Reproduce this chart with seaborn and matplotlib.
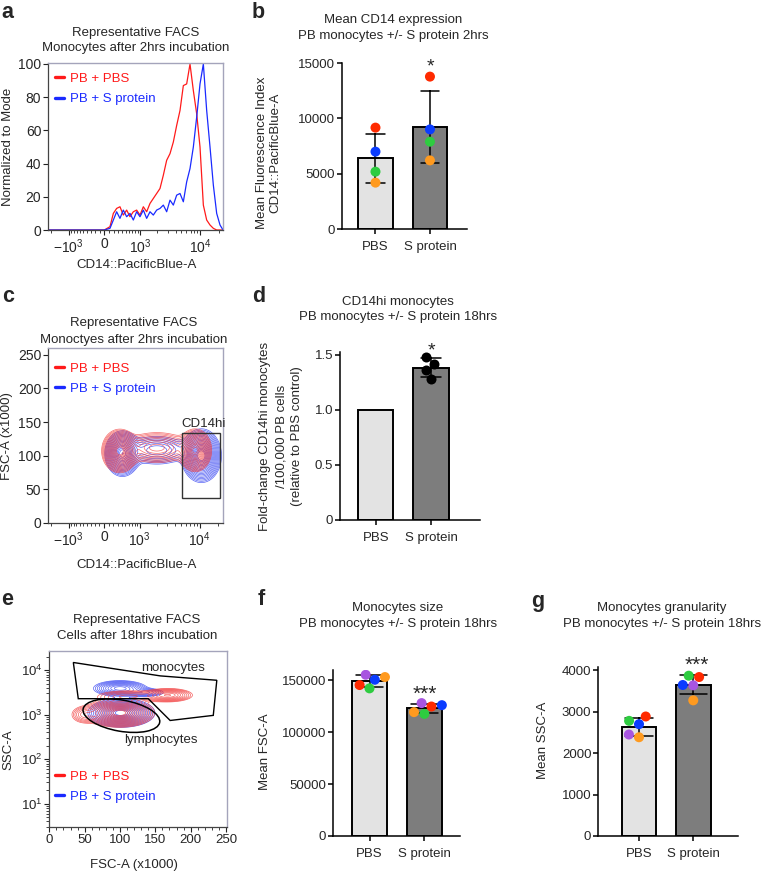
import numpy as np
import pandas as pd
import matplotlib
matplotlib.use("Agg")
import matplotlib.pyplot as plt
import seaborn as sns
from matplotlib.lines import Line2D
from matplotlib.patches import Rectangle, Polygon, Ellipse
from matplotlib.ticker import FixedLocator, FixedFormatter, MultipleLocator, LogLocator, NullFormatter

# ======================= DATA =======================
groups = ["PBS", "S protein"]
donors = ["D1", "D2", "D3", "D4", "D5"]
donor_colors = {"D1": "#ff2a00", "D2": "#0a3cff", "D3": "#2ecc40",
                "D4": "#ff9a1f", "D5": "#a855e0"}
bar_fill = {"PBS": "#e3e3e3", "S protein": "#7d7d7d"}

# (a) FACS histogram: CD14 channel intensity -> % of mode
hist_cd14 = [-2200, 0, 121, 195, 271, 351, 437, 530, 631, 741, 863, 998, 1149,
             1317, 1505, 1716, 1955, 2222, 2524, 2865, 3250, 3684, 4176, 4731,
             5358, 6069, 6872, 7781, 8810, 9973, 11290, 12781, 14466, 16377,
             18535, 20979, 23500]
hist_pbs = [0, 0, 2, 10, 13, 14, 9, 12, 8, 11, 12, 9, 14, 11, 16, 19, 22, 25,
            33, 42, 46, 53, 63, 72, 87, 88, 100, 84, 70, 50, 15, 6, 3, 1, 0, 0, 0]
hist_sprot = [0, 0, 1, 6, 11, 7, 12, 8, 10, 6, 11, 8, 12, 7, 11, 9, 12, 13, 15,
              11, 18, 15, 21, 22, 17, 29, 37, 50, 68, 88, 100, 72, 50, 27, 10, 3, 0]

# (b) mean CD14 MFI per donor
mfi_pbs = [9160, 6990, 5180, 4190]
mfi_sprot = [13770, 9000, 7890, 6200]

# (c) contour populations (CD14 centre, FSC centre, spread in asinh units, FSC spread, weight)
c_pbs_cd14 = [351, 2000, 8500]
c_pbs_fsc = [107, 112, 108]
c_pbs_sd_u = [0.27, 0.60, 0.25]
c_pbs_sd_fsc = [13, 11, 13]
c_pbs_w = [1.0, 0.35, 0.9]
c_sp_cd14 = [420, 2000, 10700]
c_sp_fsc = [103, 108, 100]
c_sp_sd_u = [0.27, 0.60, 0.30]
c_sp_sd_fsc = [14, 11, 16]
c_sp_w = [1.0, 0.30, 1.2]
cd14hi_gate_cd14 = [5225, 21760]
cd14hi_gate_fsc = [37.6, 133.6]

# (d) fold-change CD14hi monocytes
cd14hi_pbs = [1.0]
cd14hi_sprot = [1.42, 1.48, 1.36, 1.28]

# (e) FSC/SSC contour populations (FSC centre, SSC centre, FSC spread, SSC spread in decades, weight)
e_pbs_fsc = [99, 50, 168, 112]
e_pbs_ssc = [1100, 1000, 2750, 2600]
e_pbs_sd_fsc = [20, 10, 16, 24]
e_pbs_sd_dec = [0.13, 0.10, 0.07, 0.07]
e_pbs_w = [1.0, 0.2, 0.45, 0.2]
e_sp_fsc = [102, 100, 135]
e_sp_ssc = [1100, 3900, 3160]
e_sp_sd_fsc = [19, 17, 15]
e_sp_sd_dec = [0.13, 0.08, 0.05]
e_sp_w = [1.0, 0.5, 0.2]
mono_gate_fsc = [34, 157, 237, 232, 171, 140, 41]
mono_gate_ssc = [14900, 7450, 5940, 966, 742, 2290, 2290]
lymph_gate_fsc = 102
lymph_gate_ssc = 950
lymph_gate_width = 110      # FSC units
lymph_gate_height = 0.70    # decades
lymph_gate_angle = -10

# (f) mean FSC-A, (g) mean SSC-A per donor
fsc_pbs = [145500, 150600, 142300, 153200, 155400]
fsc_sprot = [124800, 126100, 117700, 119400, 128100]
ssc_pbs = [2880, 2695, 2775, 2380, 2446]
ssc_sprot = [3831, 3639, 3863, 3269, 3631]

# CD14 axis ticks
cd14_major = [-1000, 0, 1000, 10000]
cd14_labels = [r"$\mathregular{-10^3}$", "0", r"$\mathregular{10^3}$", r"$\mathregular{10^4}$"]
cd14_minor = [-2000] + list(range(-900, 0, 100)) + list(range(100, 1000, 100)) + \
             list(range(2000, 10000, 1000)) + [20000]

# ======================= STYLE =======================
sns.set_theme(style="ticks")
plt.rcParams["font.family"] = ["Liberation Sans", "DejaVu Sans"]
plt.rcParams["mathtext.fontset"] = "custom"
plt.rcParams["mathtext.rm"] = "Liberation Sans"
plt.rcParams["mathtext.it"] = "Liberation Sans:italic"
plt.rcParams["mathtext.bf"] = "Liberation Sans:bold"
plt.rcParams["axes.unicode_minus"] = False

FS = 9.5
RED, BLUE = "#ff1a1a", "#1a2aff"
CRED, CBLUE = "#f23a3a", "#3a48f2"
CD14_W = 571

W, H = 762, 876
fig = plt.figure(figsize=(W / 100, H / 100), dpi=100)


def add_ax(l, t, r, b):
    return fig.add_axes([l / W, 1 - b / H, (r - l) / W, (b - t) / H])


def ptext(x, y, s, **kw):
    kw.setdefault("fontsize", FS)
    kw.setdefault("ha", "center")
    kw.setdefault("va", "center")
    return fig.text(x / W, 1 - y / H, s, **kw)


def letter(x, y, s):
    fig.text(x / W, 1 - y / H, s, fontsize=15.5, fontweight="bold", ha="left", va="baseline")


def facs_frame(ax, labelsize=10):
    for s in ("top", "right"):
        ax.spines[s].set_visible(True)
        ax.spines[s].set_color("#a4a4bb")
        ax.spines[s].set_linewidth(1.0)
    for s in ("left", "bottom"):
        ax.spines[s].set_color("#444444")
        ax.spines[s].set_linewidth(0.9)
    ax.tick_params(which="major", direction="out", length=3.5, width=0.8,
                   labelsize=labelsize, pad=1.5, color="#222222")
    ax.tick_params(which="minor", direction="out", length=2, width=0.6, color="#222222")
    ax.set_xlabel("")
    ax.set_ylabel("")


def cd14_axis(ax):
    ax.set_xscale("asinh", linear_width=CD14_W)
    ax.set_xlim(-2250, 23700)
    ax.xaxis.set_major_locator(FixedLocator(cd14_major))
    ax.xaxis.set_major_formatter(FixedFormatter(cd14_labels))
    ax.xaxis.set_minor_locator(FixedLocator(cd14_minor))
    ax.xaxis.set_minor_formatter(NullFormatter())


def facs_legend(ax, anchor):
    handles = [Line2D([], [], color=RED, lw=2.4), Line2D([], [], color=BLUE, lw=2.4)]
    ax.legend(handles, ["PB + PBS", "PB + S protein"], loc="upper left",
              bbox_to_anchor=anchor, frameon=False, fontsize=FS, handlelength=0.65,
              handletextpad=0.5, labelspacing=0.62, borderpad=0, borderaxespad=0,
              labelcolor="linecolor")


def gauss_density(gx, gy, cx, cy, sx, sy, w):
    z = np.zeros_like(gx)
    for a, b, c, d, e in zip(cx, cy, sx, sy, w):
        z += e * np.exp(-0.5 * (((gx - a) / c) ** 2 + ((gy - b) / d) ** 2))
    return z


def contour_levels(z, n=18):
    r = np.linspace(2.5, 0.45, n)
    return z.max() * np.exp(-0.5 * r ** 2)


def long_df(pbs, sprot):
    return pd.DataFrame({"group": ["PBS"] * len(pbs) + ["S protein"] * len(sprot),
                         "value": list(pbs) + list(sprot),
                         "donor": donors[:len(pbs)] + donors[:len(sprot)]})


def bars(ax, df, capsize):
    sns.barplot(data=df, x="group", y="value", hue="group", order=groups,
                hue_order=groups, palette=bar_fill, errorbar="sd", capsize=capsize,
                width=0.64, edgecolor="black", linewidth=1.4,
                err_kws={"color": "black", "linewidth": 1.1}, legend=False, ax=ax)


def bar_frame(ax, xlim, ylim, yticks, yticklabels):
    sns.despine(ax=ax)
    for s in ("left", "bottom"):
        ax.spines[s].set_linewidth(1.1)
        ax.spines[s].set_color("black")
    ax.set_xlim(*xlim)
    ax.set_ylim(*ylim)
    ax.set_yticks(yticks)
    ax.set_yticklabels(yticklabels)
    ax.tick_params(axis="y", direction="out", length=3.5, width=1.1, labelsize=FS,
                   pad=1.5, color="black")
    ax.tick_params(axis="x", direction="out", length=3.5, width=1.1, labelsize=FS,
                   pad=5.0, color="black")
    ax.set_xlabel("")
    ax.set_ylabel("")


def stars(x, y, s, size):
    ptext(x, y + 4, s, fontsize=size)


# ======================= (a) =======================
ax = add_ax(48.3, 63, 223.3, 230)
cd14_axis(ax)
sns.lineplot(x=hist_cd14, y=hist_pbs, color=RED, lw=0.9, estimator=None, sort=False, ax=ax)
sns.lineplot(x=hist_cd14, y=hist_sprot, color=BLUE, lw=0.9, estimator=None, sort=False, ax=ax)
ax.set_ylim(0, 100.6)
ax.set_yticks([0, 20, 40, 60, 80, 100])
facs_frame(ax)
facs_legend(ax, (0.038, 0.942))
letter(1, 18, "a")
ptext(136, 33, "Representative FACS")
ptext(136, 48.5, "Monocytes after 2hrs incubation")
ptext(8, 147, "Normalized to Mode", rotation=90)
ptext(137, 265, "CD14::PacificBlue-A")

# ======================= (b) =======================
ax = add_ax(341.7, 63, 467, 229)
df_b = long_df(mfi_pbs, mfi_sprot)
bars(ax, df_b, 0.34)
sns.stripplot(data=df_b, x="group", y="value", hue="donor", order=groups,
              palette=donor_colors, jitter=False, size=7.2, linewidth=0,
              legend=False, ax=ax, zorder=3)
bar_frame(ax, (-0.62, 1.68), (0, 15000), [0, 5000, 10000, 15000],
          ["0", "5000", "10000", "15000"])
stars(430, 63, "*", 14)
letter(252, 18, "b")
ptext(393, 20, "Mean CD14 expression")
ptext(393, 36, "PB monocytes +/- S protein 2hrs")
ptext(262, 153, "Mean Fluorescence Index", rotation=90)
ptext(275.5, 153, "CD14::PacificBlue-A", rotation=90)

# ======================= (c) =======================
ax = add_ax(48.3, 348, 222.7, 523)
cd14_axis(ax)
ax.set_ylim(0, 260)
gu = np.linspace(np.arcsinh(-2250 / CD14_W), np.arcsinh(23700 / CD14_W), 400)
gy = np.linspace(0, 260, 400)
GU, GY = np.meshgrid(gu, gy)
GX = CD14_W * np.sinh(GU)
z_pbs = gauss_density(GU, GY, np.arcsinh(np.array(c_pbs_cd14) / CD14_W), c_pbs_fsc,
                      c_pbs_sd_u, c_pbs_sd_fsc, c_pbs_w)
z_sp = gauss_density(GU, GY, np.arcsinh(np.array(c_sp_cd14) / CD14_W), c_sp_fsc,
                     c_sp_sd_u, c_sp_sd_fsc, c_sp_w)
ax.contour(GX, GY, z_sp, levels=contour_levels(z_sp, 18), colors=CBLUE, linewidths=0.5, alpha=0.85)
ax.contour(GX, GY, z_pbs, levels=contour_levels(z_pbs, 18), colors=CRED, linewidths=0.5, alpha=0.75)
ax.add_patch(Rectangle((cd14hi_gate_cd14[0], cd14hi_gate_fsc[0]),
                       cd14hi_gate_cd14[1] - cd14hi_gate_cd14[0],
                       cd14hi_gate_fsc[1] - cd14hi_gate_fsc[0],
                       fill=False, ec="#333333", lw=1.0, zorder=5))
ax.set_yticks([0, 50, 100, 150, 200, 250])
facs_frame(ax)
facs_legend(ax, (0.038, 0.918))
ptext(204, 424, "CD14hi")
letter(2, 302, "c")
ptext(134, 323, "Representative FACS")
ptext(134, 339.5, "Monoctyes after 2hrs incubation")
ptext(7, 436, "FSC-A (x1000)", rotation=90)
ptext(137, 565, "CD14::PacificBlue-A")

# ======================= (d) =======================
ax = add_ax(340, 351.7, 480, 520)
df_d = long_df(cd14hi_pbs, cd14hi_sprot)
bars(ax, df_d, 0.36)
sns.swarmplot(data=df_d[df_d["group"] == "S protein"], x="group", y="value",
              order=groups, color="black", size=7.2, linewidth=0, ax=ax, zorder=3)
bar_frame(ax, (-0.65, 1.89), (0, 1.53), [0, 0.5, 1.0, 1.5], ["0", "0.5", "1.0", "1.5"])
stars(431, 347, "*", 14)
letter(252, 302, "d")
ptext(398, 302, "CD14hi monocytes")
ptext(398, 317, "PB monocytes +/- S protein 18hrs")
ptext(265, 436, "Fold-change CD14hi monocytes", rotation=90)
ptext(281, 436, "/100,000 PB cells", rotation=90)
ptext(297, 436, "(relative to PBS control)", rotation=90)

# ======================= (e) =======================
ax = add_ax(49.3, 651, 226.7, 827)
ax.set_yscale("log")
ax.set_xlim(0, 251)
ax.set_ylim(3, 27000)
gx = np.linspace(0, 251, 400)
gl = np.linspace(np.log10(3), np.log10(27000), 400)
GXe, GLe = np.meshgrid(gx, gl)
ze_pbs = gauss_density(GXe, GLe, e_pbs_fsc, np.log10(e_pbs_ssc), e_pbs_sd_fsc,
                       e_pbs_sd_dec, e_pbs_w)
ze_sp = gauss_density(GXe, GLe, e_sp_fsc, np.log10(e_sp_ssc), e_sp_sd_fsc,
                      e_sp_sd_dec, e_sp_w)
ax.contour(GXe, 10 ** GLe, ze_sp, levels=contour_levels(ze_sp, 16), colors=CBLUE,
           linewidths=0.5, alpha=0.85)
ax.contour(GXe, 10 ** GLe, ze_pbs, levels=contour_levels(ze_pbs, 16), colors=CRED,
           linewidths=0.5, alpha=0.8)
ax.add_patch(Polygon(list(zip(mono_gate_fsc, mono_gate_ssc)), closed=True,
                     fill=False, ec="black", lw=1.0, zorder=5))
ctr = ax.transAxes.inverted().transform(ax.transData.transform((lymph_gate_fsc, lymph_gate_ssc)))
span_dec = np.log10(27000) - np.log10(3)
ax.add_patch(Ellipse(ctr, lymph_gate_width / 251, lymph_gate_height / span_dec,
                     angle=lymph_gate_angle, transform=ax.transAxes, fill=False,
                     ec="black", lw=1.1, zorder=5))
ax.xaxis.set_major_locator(MultipleLocator(50))
ax.xaxis.set_minor_locator(MultipleLocator(10))
ax.yaxis.set_major_locator(LogLocator(base=10, numticks=10))
ax.yaxis.set_minor_locator(LogLocator(base=10, subs=np.arange(2, 10), numticks=20))
ax.yaxis.set_minor_formatter(NullFormatter())
facs_frame(ax, labelsize=9.5)
facs_legend(ax, (0.032, 0.322))
ptext(173, 668, "monocytes")
ptext(161, 740, "lymphocytes")
letter(1, 605, "e")
ptext(137, 620, "Representative FACS")
ptext(137, 636, "Cells after 18hrs incubation")
ptext(8, 750, "SSC-A", rotation=90)
ptext(134, 865, "FSC-A (x1000)")

# ======================= (f) =======================
ax = add_ax(333.3, 670, 460, 836)
df_f = long_df(fsc_pbs, fsc_sprot)
bars(ax, df_f, 0.5)
sns.swarmplot(data=df_f, x="group", y="value", hue="donor", order=groups,
              palette=donor_colors, size=7.2, linewidth=0, legend=False, ax=ax, zorder=3)
bar_frame(ax, (-0.66, 1.65), (0, 160000), [0, 50000, 100000, 150000],
          ["0", "50000", "100000", "150000"])
stars(424.5, 690, "***", 15)
letter(258, 605, "f")
ptext(398, 608, "Monocytes size")
ptext(398, 623.5, "PB monocytes +/- S protein 18hrs")
ptext(265, 752, "Mean FSC-A", rotation=90)

# ======================= (g) =======================
ax = add_ax(598.3, 666.7, 738.3, 836)
df_g = long_df(ssc_pbs, ssc_sprot)
bars(ax, df_g, 0.5)
sns.swarmplot(data=df_g, x="group", y="value", hue="donor", order=groups,
              palette=donor_colors, size=7.2, linewidth=0, legend=False, ax=ax, zorder=3)
bar_frame(ax, (-0.75, 1.83), (0, 4080), [0, 1000, 2000, 3000, 4000],
          ["0", "1000", "2000", "3000", "4000"])
stars(696.5, 661, "***", 15)
letter(531, 607, "g")
ptext(662, 608, "Monocytes granularity")
ptext(662, 623.5, "PB monocytes +/- S protein 18hrs")
ptext(543, 740, "Mean SSC-A", rotation=90)

fig.savefig("out.png", dpi=100)
